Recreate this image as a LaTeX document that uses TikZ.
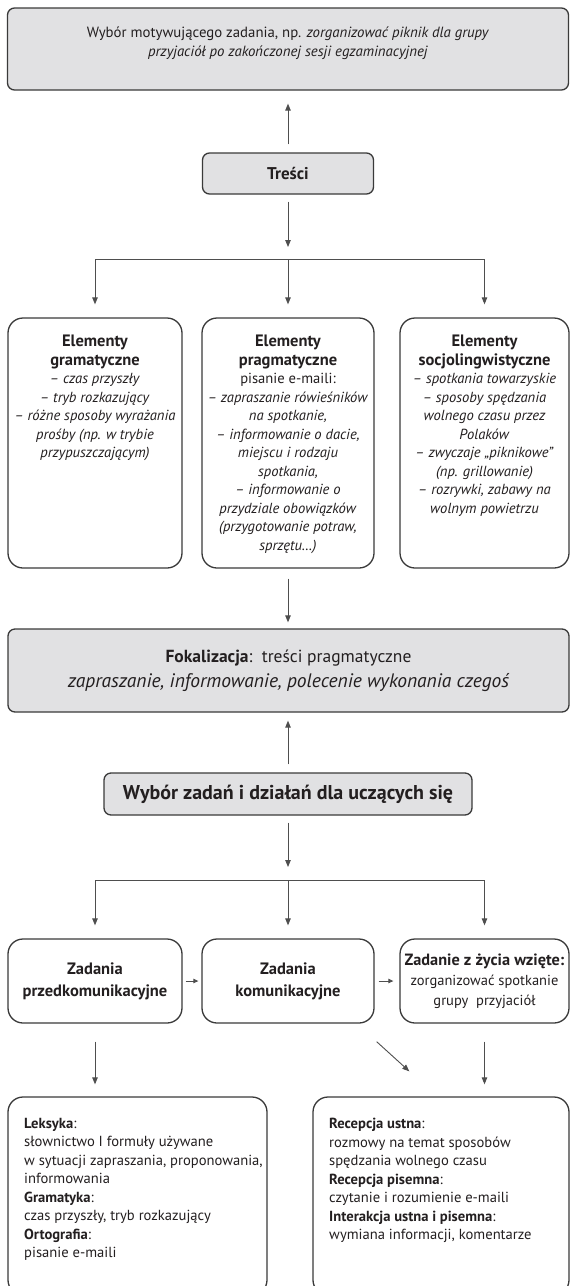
\documentclass[tikz,border=0pt]{standalone}
\usepackage{fontspec}
\setmainfont{PT Sans}
\usetikzlibrary{arrows.meta}
\definecolor{boxgray}{HTML}{E1E1E3}
\definecolor{edgec}{HTML}{3A3A3A}
\definecolor{arrowc}{HTML}{4E4E4E}
\definecolor{txtc}{HTML}{231F20}
\newcommand\hdr[1]{{\bfseries\fontsize{16.5}{19}\selectfont #1}}
\begin{document}
\begin{tikzpicture}[x=1pt,y=-1pt,
  graybox/.style={draw=edgec, line width=1.3pt, fill=boxgray, rounded corners=7pt, inner sep=0pt, text=txtc, align=center},
  whitebox/.style={draw=edgec, line width=1.3pt, fill=white, rounded corners=15pt, inner sep=0pt, text=txtc, align=center},
  arr/.style={draw=arrowc, line width=0.9pt, -{Triangle[length=7pt,width=5.5pt]}},
  arrsmall/.style={draw=arrowc, line width=0.9pt, -{Triangle[length=5pt,width=4.5pt]}},
  ln/.style={draw=arrowc, line width=0.9pt},
  bodytext/.style={inner sep=0pt, text=txtc, font=\fontsize{14.6}{18.5}\selectfont},
]
\useasboundingbox (0,0) rectangle (570,1286);
\clip (0,0) rectangle (570,1286);

% top box
\node[graybox, minimum width=561pt, minimum height=82pt] (top) at (288,49) {};
\node[inner sep=0pt, text=txtc, align=center, anchor=north, font=\fontsize{14.8}{19}\selectfont] (toptx) at (288,27)
  {Wybór motywującego zadania, np. \textit{zorganizować piknik dla grupy}\\
   \textit{przyjaciół po zakończonej sesji egzaminacyjnej}};

% Tresci
\node[graybox, minimum width=171pt, minimum height=41pt, font=\bfseries\fontsize{17}{19}\selectfont] (tresci) at (288,173.5) {Treści};

% three element boxes
\node[whitebox, minimum width=174pt, minimum height=250pt] (g) at (95,443) {};
\node[whitebox, minimum width=172pt, minimum height=250pt] (p) at (288,443) {};
\node[whitebox, minimum width=169pt, minimum height=250pt] (s) at (484.5,443) {};

\node[bodytext, align=center, anchor=north] (gtx) at (95,335)
  {\hdr{Elementy}\\
   \hdr{gramatyczne}\\
   \textit{– czas przyszły}\\
   \textit{– tryb rozkazujący}\\
   \textit{– różne sposoby wyrażania}\\
   \textit{prośby (np. w trybie}\\
   \textit{przypuszczającym)}};
\node[bodytext, align=center, anchor=north] (ptx) at (288,335)
  {\hdr{Elementy}\\
   \hdr{pragmatyczne}\\
   pisanie e-maili:\\
   \textit{– zapraszanie rówieśników}\\
   \textit{na spotkanie,}\\
   \textit{– informowanie o dacie,}\\
   \textit{miejscu i rodzaju}\\
   \textit{spotkania,}\\
   \textit{– informowanie o}\\
   \textit{przydziale obowiązków}\\
   \textit{(przygotowanie potraw,}\\
   \textit{sprzętu…)}};
\node[bodytext, align=center, anchor=north] (stx) at (484.5,335)
  {\hdr{Elementy}\\
   \hdr{socjolingwistyczne}\\
   \textit{– spotkania towarzyskie}\\
   \textit{– sposoby spędzania}\\
   \textit{wolnego czasu przez}\\
   \textit{Polaków}\\
   \textit{– zwyczaje „piknikowe”}\\
   \textit{(np. grillowanie)}\\
   \textit{– rozrywki, zabawy na}\\
   \textit{wolnym powietrzu}};

% Fokalizacja
\node[graybox, minimum width=561pt, minimum height=83pt, font=\fontsize{17.5}{25}\selectfont] (fok) at (288.5,670.5)
  {\textbf{Fokalizacja}:\ \ treści pragmatyczne\\
   {\fontsize{19.5}{25}\selectfont\itshape zapraszanie, informowanie, polecenie wykonania czegoś}};

% Wybor zadan
\node[graybox, minimum width=368pt, minimum height=42pt, font=\bfseries\fontsize{20}{22}\selectfont] (wyb) at (288,794)
  {Wybór zadań i działań dla uczących się};

% task boxes
\node[whitebox, minimum width=174pt, minimum height=84pt, font=\bfseries\fontsize{16.5}{22}\selectfont] (pz) at (95,981)
  {Zadania\\przedkomunikacyjne};
\node[whitebox, minimum width=172pt, minimum height=84pt, font=\bfseries\fontsize{16.5}{22}\selectfont] (kz) at (288,981)
  {Zadania\\komunikacyjne};
\node[whitebox, minimum width=169pt, minimum height=84pt, font=\fontsize{14.5}{20}\selectfont] (zz) at (484.5,981)
  {{\bfseries\fontsize{16.3}{20}\selectfont Zadanie z życia wzięte:}\\zorganizować spotkanie\\grupy\ \ przyjaciół};

% bottom boxes
\node[whitebox, minimum width=259pt, minimum height=198pt] (lb) at (137.5,1196) {};
\node[whitebox, minimum width=256pt, minimum height=198pt] (rb) at (441,1196) {};

\node[bodytext, align=left, anchor=north west] (lbtx) at (24,1118)
  {\textbf{Leksyka}:\\
   słownictwo I formuły używane\\
   w sytuacji zapraszania, proponowania,\\
   informowania\\
   \textbf{Gramatyka}:\\
   czas przyszły, tryb rozkazujący\\
   \textbf{Ortografia}:\\
   pisanie e-maili};
\node[bodytext, align=left, anchor=north west] (rbtx) at (329,1118)
  {\textbf{Recepcja ustna}:\\
   rozmowy na temat sposobów\\
   spędzania wolnego czasu\\
   \textbf{Recepcja pisemna}:\\
   czytanie i rozumienie e-maili\\
   \textbf{Interakcja ustna i pisemna}:\\
   wymiana informacji, komentarze};

% connectors
\draw[arr, shorten <=8pt, shorten >=13pt] (tresci.north) -- (tresci.north |- top.south);
\coordinate (b1) at (288,259);
\draw[arr, shorten <=7pt, shorten >=12pt] (tresci.south) -- (b1);
\draw[ln] (g.north |- b1) -- (s.north |- b1);
\draw[arr, shorten >=13pt] (g.north |- b1) -- (g.north);
\draw[arr, shorten >=13pt] (b1) -- (p.north);
\draw[arr, shorten >=13pt] (s.north |- b1) -- (s.north);

\draw[arr, shorten <=10pt, shorten >=6pt] (p.south) -- (p.south |- fok.north);
\draw[arr, shorten <=8pt, shorten >=8pt] (wyb.north) -- (wyb.north |- fok.south);

\coordinate (b2) at (288,880);
\draw[arr, shorten <=7pt, shorten >=13pt] (wyb.south) -- (b2);
\draw[ln] (pz.north |- b2) -- (zz.north |- b2);
\draw[arr, shorten >=13pt] (pz.north |- b2) -- (pz.north);
\draw[arr, shorten >=13pt] (b2) -- (kz.north);
\draw[arr, shorten >=13pt] (zz.north |- b2) -- (zz.north);

\draw[arrsmall, shorten <=3pt, shorten >=3pt] (pz.east) -- (kz.west);
\draw[arrsmall, shorten <=4pt, shorten >=6pt] (kz.east) -- (zz.west);

\draw[arr, shorten <=18pt, shorten >=12pt] (pz.south) -- (pz.south |- lb.north);
\draw[arr, shorten <=18pt, shorten >=12pt] (zz.south) -- (zz.south |- rb.north);
\draw[arr] ([shift={(2pt,-18pt)}]kz.south east) -- ([shift={(97pt,25pt)}]rb.north west);
\end{tikzpicture}
\end{document}
